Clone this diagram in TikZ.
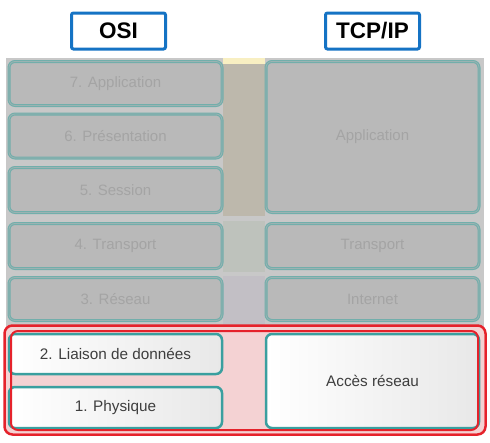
\documentclass[tikz,border=0pt]{standalone}
\usepackage{fontspec}
\setmainfont{Liberation Sans}
\definecolor{hdrblue}{HTML}{1573C4}
\definecolor{fadeteal}{HTML}{72AEAB}
\definecolor{fadeinner}{HTML}{9BB3B2}
\definecolor{fadefill}{HTML}{B9B9B9}
\definecolor{fadetext}{HTML}{A4A4A4}
\definecolor{panel}{HTML}{C8C8C8}
\definecolor{tan}{HTML}{BDB8AC}
\definecolor{paleyel}{HTML}{F8EFC2}
\definecolor{midgreen}{HTML}{BEC2BC}
\definecolor{midlav}{HTML}{C2BFC5}
\definecolor{pinkbg}{HTML}{F4D2D3}
\definecolor{teal}{HTML}{3A9F9F}
\definecolor{darktext}{HTML}{3E3E3E}
\definecolor{redline}{HTML}{E5222B}
\tikzset{
  hdr/.style={draw=hdrblue, line width=3pt, fill=white, rounded corners=2pt, font=\fontsize{22.5}{25}\selectfont\bfseries, inner sep=0pt},
  fadebox/.style={draw=fadeteal, line width=3pt, fill=fadefill, rounded corners=6pt, text=fadetext, font=\fontsize{15}{17}\selectfont, inner sep=0pt,
     postaction={draw=fadeinner, line width=0.8pt}},
  livebox/.style={draw=teal, line width=2.5pt, left color=white, right color=black!9, rounded corners=6pt, text=darktext, font=\fontsize{15.3}{17}\selectfont, inner sep=0pt},
  redframe/.style={draw=redline, rounded corners=8pt}
}
\begin{document}
\begin{tikzpicture}[x=1pt,y=-1pt]
\useasboundingbox (0,0) rectangle (490,442);
% background panels
\fill[panel] (6,58) rectangle (484,326);
\fill[tan] (223,58) rectangle (265,216);
\fill[paleyel] (223,58) rectangle (265,64);
\fill[midgreen] (223,221) rectangle (265,272);
\fill[midlav] (223,276) rectangle (265,325);
\fill[pinkbg] (6,326) rectangle (484,433);
% headers
\node[hdr, minimum width=94pt, minimum height=36pt] (osi) at (118.5,31) {OSI};
\node[hdr, minimum width=94pt, minimum height=36pt] (tcp) at (372.5,31) {TCP/IP};
% OSI layers
\node[fadebox, minimum width=213pt, minimum height=44pt] (l7) at (115.5,83.5) {7. Application};
\node[fadebox, minimum width=213pt, minimum height=44pt] (l6) at (115.5,136) {6. Présentation};
\node[fadebox, minimum width=213pt, minimum height=45pt] (l5) at (115.5,190) {5. Session};
\node[fadebox, minimum width=213pt, minimum height=45pt] (l4) at (115.5,246) {4. Transport};
\node[fadebox, minimum width=213pt, minimum height=43pt] (l3) at (115.5,299) {3. Réseau};
% TCP/IP layers
\node[fadebox, minimum width=213pt, minimum height=151pt] (tapp) at (372.5,137) {Application};
\node[fadebox, minimum width=213pt, minimum height=45pt] (ttr) at (372.5,246) {Transport};
\node[fadebox, minimum width=213pt, minimum height=43pt] (tin) at (372.5,299) {Internet};
% highlighted lower layers
\node[livebox, minimum width=213pt, minimum height=40pt] (l2) at (115.5,354) {2. Liaison de données};
\node[livebox, minimum width=213pt, minimum height=41pt] (l1) at (115.5,407.5) {1. Physique};
\node[livebox, minimum width=213pt, minimum height=94pt] (tacc) at (372.5,381) {Accès réseau};
% red frames
\draw[redframe, line width=2.5pt] (4.5,325.5) rectangle (485.5,434.5);
\draw[redframe, line width=2pt, rounded corners=7pt] (11,331) rectangle (478,430);
\end{tikzpicture}
\end{document}
